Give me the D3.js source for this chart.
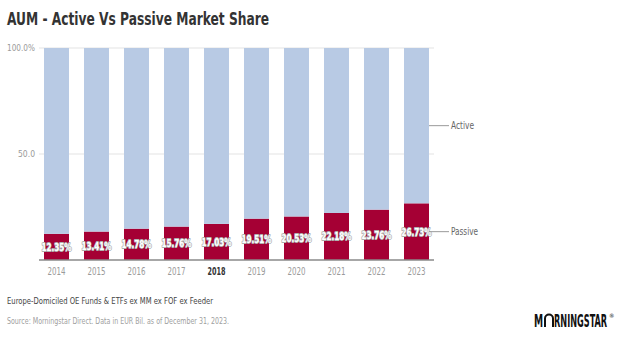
<!DOCTYPE html>
<html>
<head>
<meta charset="utf-8">
<script src="https://cdn.jsdelivr.net/npm/d3@7"></script>
<style>
  html, body { margin: 0; padding: 0; background: #fff; }
  svg { display: block; }
</style>
</head>
<body>
<div id="chart"></div>
<script>
const years = ['2014', '2015', '2016', '2017', '2018', '2019', '2020', '2021', '2022', '2023'];
const passive = [12.35, 13.41, 14.78, 15.76, 17.03, 19.51, 20.53, 22.18, 23.76, 26.73];
const active = passive.map(p => 100 - p);
const yTicks = [50, 100];
const highlightYear = '2018';

const width = 619, height = 342;
const font = "'Liberation Sans Narrow', 'DejaVu Sans Condensed', 'Roboto', sans-serif";

const svg = d3.select('#chart')
  .append('svg')
  .attr('width', width)
  .attr('height', height)
  .style('font-family', font);

// no condensed face installed, so squeeze text to the reference widths
const squeeze = (sel, w) => sel.attr('textLength', w).attr('lengthAdjust', 'spacingAndGlyphs');

// title
svg.append('text')
  .attr('x', 7)
  .attr('y', 25)
  .attr('font-size', 18)
  .attr('font-weight', 'bold')
  .attr('fill', '#333')
  .call(squeeze, 262)
  .text('AUM - Active Vs Passive Market Share');

const x = d3.scaleBand()
  .domain(years)
  .range([36.5, 436.5])
  .paddingInner(0.375)
  .paddingOuter(0.1875);

const y = d3.scaleLinear()
  .domain([0, 100])
  .range([260, 48]);

const left = 39, right = 434;

// grid
svg.append('g')
  .selectAll('line')
  .data(yTicks)
  .join('line')
    .attr('x1', left)
    .attr('x2', right)
    .attr('y1', d => y(d))
    .attr('y2', d => y(d))
    .attr('stroke', '#e3e3e3');

svg.append('g')
  .selectAll('text')
  .data(yTicks)
  .join('text')
    .attr('x', 35)
    .attr('y', d => y(d))
    .attr('dy', '0.35em')
    .attr('text-anchor', 'end')
    .attr('font-size', 9.5)
    .attr('fill', '#9a9a9a')
    .each(function (d) { squeeze(d3.select(this), d === 100 ? 28 : 17); })
    .text(d => d === 100 ? '100.0%' : d.toFixed(1));

// stacked bars
const rows = years.map((yr, i) => ({ year: yr, passive: passive[i], active: active[i] }));
const stack = d3.stack().keys(['passive', 'active'])(rows);
const colors = { passive: '#a50034', active: '#b8cae4' };

svg.append('g')
  .selectAll('g')
  .data(stack)
  .join('g')
    .attr('fill', d => colors[d.key])
  .selectAll('rect')
  .data(d => d)
  .join('rect')
    .attr('x', d => x(d.data.year))
    .attr('width', x.bandwidth())
    .attr('y', d => y(d[1]))
    .attr('height', d => y(d[0]) - y(d[1]));

// baseline
svg.append('line')
  .attr('x1', left)
  .attr('x2', right)
  .attr('y1', y(0))
  .attr('y2', y(0))
  .attr('stroke', '#8a8a8a')
  .attr('stroke-width', 1.5);

// x axis labels
svg.append('g')
  .selectAll('text')
  .data(years)
  .join('text')
    .attr('x', d => x(d) + x.bandwidth() / 2)
    .attr('y', 271)
    .attr('dy', '0.35em')
    .attr('text-anchor', 'middle')
    .attr('font-size', 10.5)
    .attr('font-weight', d => d === highlightYear ? 'bold' : 'normal')
    .attr('fill', d => d === highlightYear ? '#333' : '#9a9a9a')
    .call(squeeze, 18)
    .text(d => d);

// value labels inside passive bars
svg.append('g')
  .selectAll('text')
  .data(rows)
  .join('text')
    .attr('x', d => x(d.year) + x.bandwidth() / 2)
    .attr('y', d => (y(0) + y(d.passive)) / 2)
    .attr('dy', '0.35em')
    .attr('text-anchor', 'middle')
    .attr('font-size', 11)
    .attr('font-weight', 'bold')
    .attr('fill', '#fff')
    .attr('stroke', '#b0b0b0')
    .attr('stroke-width', 1.8)
    .attr('stroke-linejoin', 'round')
    .attr('paint-order', 'stroke')
    .call(squeeze, 30)
    .text(d => d.passive.toFixed(2) + '%');

// series labels on the last bar
const last = rows[rows.length - 1];
const barRight = x(last.year) + x.bandwidth();
const seriesLabels = [
  { name: 'Active', w: 23, yv: (y(100) + y(last.passive)) / 2 },
  { name: 'Passive', w: 27, yv: (y(0) + y(last.passive)) / 2 }
];
const sl = svg.append('g');
sl.selectAll('line')
  .data(seriesLabels)
  .join('line')
    .attr('x1', barRight)
    .attr('x2', barRight + 20)
    .attr('y1', d => d.yv)
    .attr('y2', d => d.yv)
    .attr('stroke', '#9a9a9a');
sl.selectAll('text')
  .data(seriesLabels)
  .join('text')
    .attr('x', barRight + 22)
    .attr('y', d => d.yv)
    .attr('dy', '0.35em')
    .attr('font-size', 10.5)
    .attr('fill', '#666')
    .attr('textLength', d => d.w)
    .attr('lengthAdjust', 'spacingAndGlyphs')
    .text(d => d.name);

// footer
svg.append('text')
  .attr('x', 7)
  .attr('y', 301)
  .attr('dy', '0.35em')
  .attr('font-size', 9.5)
  .attr('fill', '#444')
  .call(squeeze, 206)
  .text('Europe-Domiciled OE Funds & ETFs ex MM ex FOF ex Feeder');

svg.append('text')
  .attr('x', 7)
  .attr('y', 321)
  .attr('dy', '0.35em')
  .attr('font-size', 9)
  .attr('fill', '#a0a0a0')
  .call(squeeze, 222)
  .text('Source: Morningstar Direct. Data in EUR Bil. as of December 31, 2023.');

// logo: squeezed with a transform so the text box matches what is drawn
const logo = svg.append('g').attr('font-weight', 'bold').attr('font-size', 17).attr('fill', '#111');
const base = 327;
logo.append('text')
  .attr('transform', `translate(534,${base}) scale(0.6,1)`)
  .text('M');
const ox = 545, r = 4;
logo.append('path')
  .attr('d', `M${ox},${base} L${ox},${base - 8.5} A${r},${r} 0 0 1 ${ox + 2 * r},${base - 8.5} L${ox + 2 * r},${base}`)
  .attr('fill', 'none')
  .attr('stroke', '#111')
  .attr('stroke-width', 2);
logo.append('text')
  .attr('transform', `translate(554,${base}) scale(0.535,1)`)
  .text('RNINGSTAR');
logo.append('text').attr('x', 609).attr('y', base - 9)
  .attr('font-size', 6).attr('font-weight', 'normal')
  .text('®');
</script>
</body>
</html>
